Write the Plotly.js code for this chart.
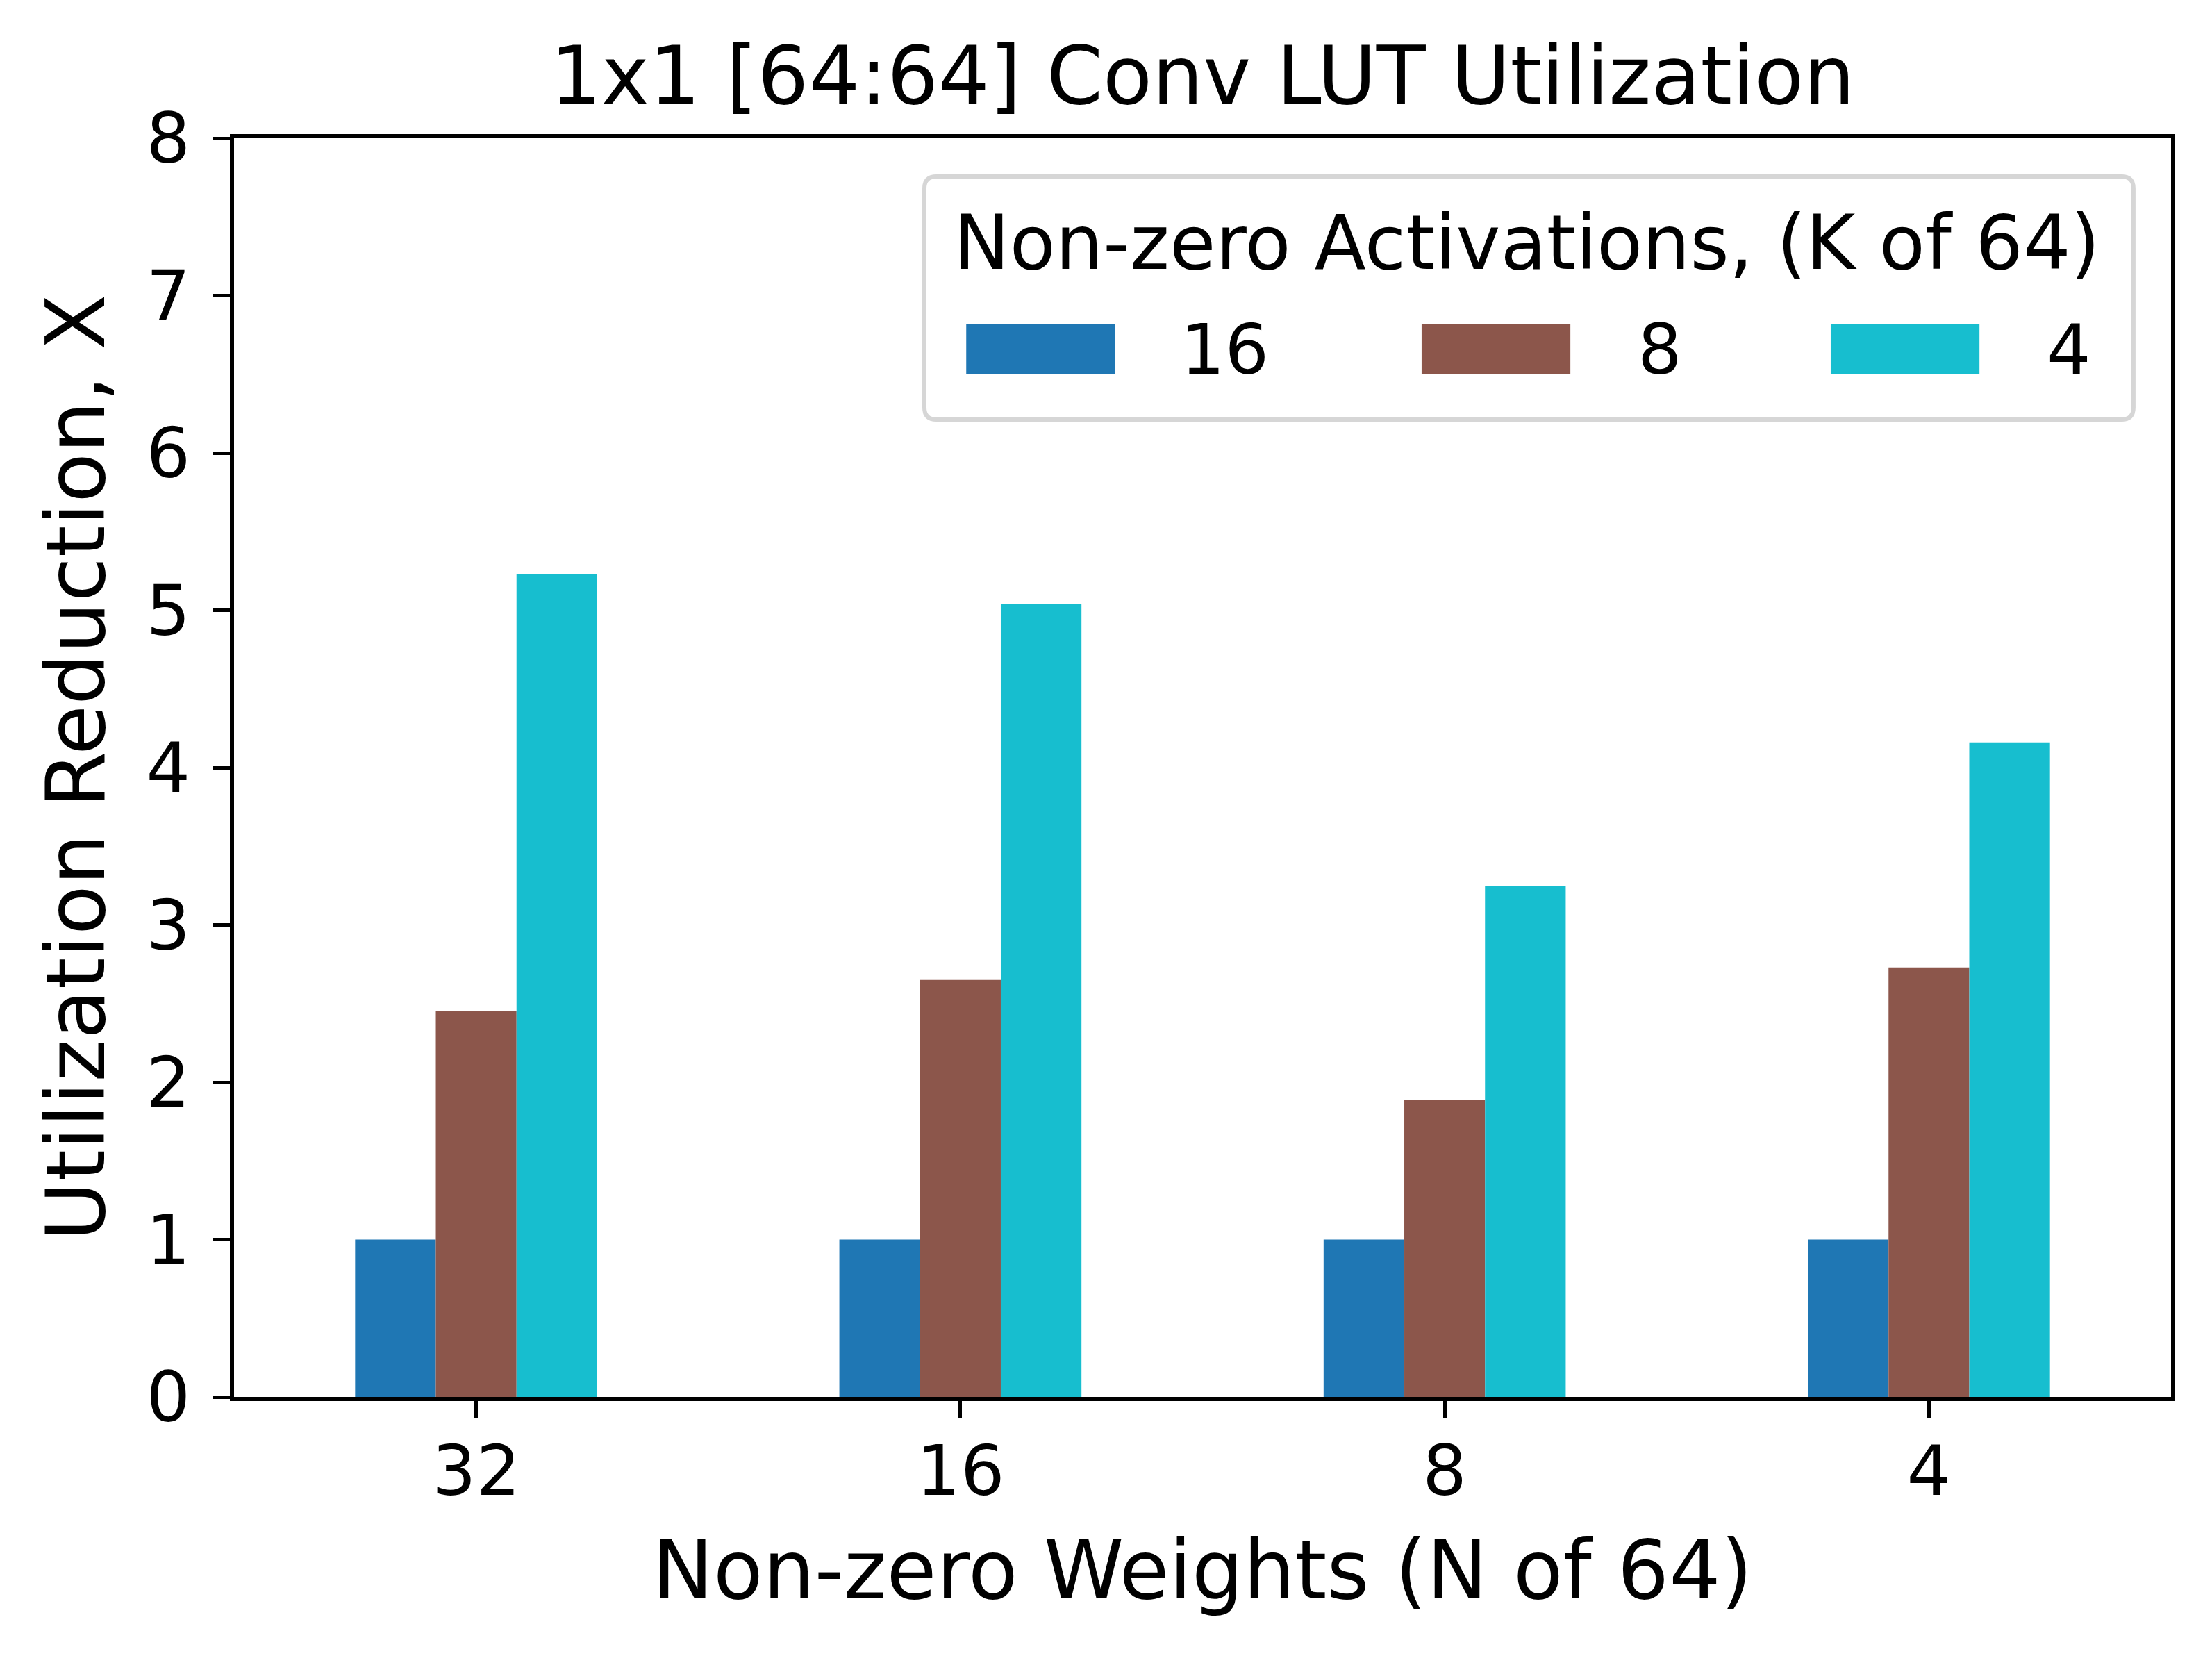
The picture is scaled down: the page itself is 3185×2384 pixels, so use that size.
<!DOCTYPE html>
<html>
<head>
<meta charset="utf-8">
<script src="https://cdn.plot.ly/plotly-3.0.1.min.js"></script>
<style>
  html, body { margin: 0; padding: 0; background: #fff; }
  #chart { width: 3185px; height: 2384px; }
</style>
</head>
<body>
<div id="chart"></div>
<script>
// categories: non-zero weights (N of 64)
var weights = ['32', '16', '8', '4'];

// series: non-zero activations (K of 64)
var seriesNames = ['16', '8', '4'];
var k16 = [1.0, 1.0, 1.0, 1.0];
var k8 = [2.45, 2.65, 1.89, 2.73];
var k4 = [5.23, 5.04, 3.25, 4.16];
var seriesValues = [k16, k8, k4];
var seriesColors = ['#1f77b4', '#8c564b', '#17becf'];

var yTicks = [0, 1, 2, 3, 4, 5, 6, 7, 8];

var font = 'DejaVu Sans, sans-serif';

var traces = seriesNames.map(function (name, i) {
  return {
    x: weights,
    y: seriesValues[i],
    name: name,
    type: 'bar',
    marker: { color: seriesColors[i], line: { width: 0 } },
    showlegend: false
  };
});

// hand-made legend, matplotlib style (wide swatches, rounded frame)
var shapes = [];
var annotations = [];

var bx0 = 0.3564, bx1 = 0.9806, by0 = 0.7765, by1 = 0.9696;
var rx = 0.0062, ry = 0.0095;
shapes.push({
  type: 'path', xref: 'paper', yref: 'paper',
  path: 'M' + (bx0 + rx) + ',' + by1 +
        ' L' + (bx1 - rx) + ',' + by1 +
        ' Q' + bx1 + ',' + by1 + ' ' + bx1 + ',' + (by1 - ry) +
        ' L' + bx1 + ',' + (by0 + ry) +
        ' Q' + bx1 + ',' + by0 + ' ' + (bx1 - rx) + ',' + by0 +
        ' L' + (bx0 + rx) + ',' + by0 +
        ' Q' + bx0 + ',' + by0 + ' ' + bx0 + ',' + (by0 + ry) +
        ' L' + bx0 + ',' + (by1 - ry) +
        ' Q' + bx0 + ',' + by1 + ' ' + (bx0 + rx) + ',' + by1 + ' Z',
  line: { color: '#d6d6d6', width: 6 },
  fillcolor: 'rgba(255,255,255,0.8)',
  layer: 'above'
});

annotations.push({
  xref: 'paper', yref: 'paper', x: 0.6675, y: 0.9172,
  xanchor: 'center', yanchor: 'middle', showarrow: false,
  text: 'Non-zero Activations, (K of 64)',
  font: { family: font, size: 108, color: '#000' }
});

var swatchX = [0.378, 0.6131, 0.8243];
var labelX = [0.488, 0.7239, 0.935];
seriesNames.forEach(function (name, i) {
  shapes.push({
    type: 'rect', xref: 'paper', yref: 'paper',
    x0: swatchX[i], x1: swatchX[i] + 0.0768, y0: 0.8129, y1: 0.8521,
    fillcolor: seriesColors[i], line: { width: 0 }, layer: 'above'
  });
  annotations.push({
    xref: 'paper', yref: 'paper', x: labelX[i], y: 0.8317,
    xanchor: 'left', yanchor: 'middle', showarrow: false,
    text: name,
    font: { family: font, size: 100, color: '#000' }
  });
});

var layout = {
  width: 3185,
  height: 2384,
  margin: { l: 337, r: 59, t: 199, b: 373 },
  paper_bgcolor: '#fff',
  plot_bgcolor: '#fff',
  font: { family: font, size: 100, color: '#000' },
  title: {
    text: '1x1 [64:64] Conv LUT Utilization',
    font: { family: font, size: 116, color: '#000' },
    xref: 'paper', x: 0.5, xanchor: 'center',
    yref: 'container', y: 1 - 108 / 2384, yanchor: 'middle'
  },
  bargap: 0.5,
  bargroupgap: 0,
  barmode: 'group',
  xaxis: {
    type: 'category',
    categoryorder: 'array',
    categoryarray: weights,
    range: [-0.5, 3.5],
    showline: true, mirror: true, linecolor: '#000', linewidth: 6,
    ticks: 'outside', ticklen: 25, tickwidth: 5, tickcolor: '#000',
    ticklabelstandoff: -10,
    showgrid: false, zeroline: false,
    tickfont: { family: font, size: 100, color: '#000' },
    title: {
      text: 'Non-zero Weights (N of 64)',
      font: { family: font, size: 117, color: '#000' },
      standoff: 46
    }
  },
  yaxis: {
    range: [0, 8],
    tickvals: yTicks,
    ticktext: yTicks.map(String),
    showline: true, mirror: true, linecolor: '#000', linewidth: 6,
    ticks: 'outside', ticklen: 25, tickwidth: 5, tickcolor: '#000',
    ticklabelstandoff: 12,
    showgrid: false, zeroline: false,
    tickfont: { family: font, size: 100, color: '#000' },
    title: {
      text: 'Utilization Reduction, X',
      font: { family: font, size: 117, color: '#000' },
      standoff: 22
    }
  },
  shapes: shapes,
  annotations: annotations
};

Plotly.newPlot('chart', traces, layout, { displayModeBar: false, staticPlot: true });
</script>
</body>
</html>
